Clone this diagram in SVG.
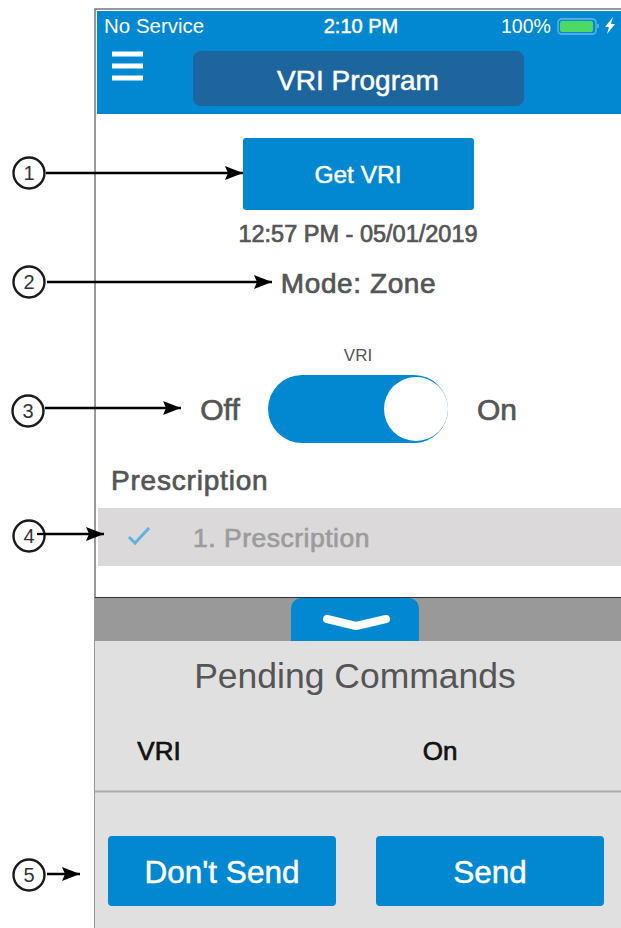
<svg xmlns="http://www.w3.org/2000/svg" width="621" height="928" viewBox="0 0 621 928">
<style>
text{font-family:"Liberation Sans",Arial,sans-serif}
.w{fill:#fff}.m{text-anchor:middle}
.b{fill:#0288d1}
.g{fill:#555}
.ws{stroke:#fff;stroke-width:.5}
.gs{stroke:#555;stroke-width:.7}
.ks{fill:#111;stroke:#111;stroke-width:.7}
.c{fill:#fff;stroke:#1a1a1a;stroke-width:2.4}
.n{font-size:20px;fill:#333;text-anchor:middle}
.l{stroke:#000;stroke-width:2.3;fill:none;marker-end:url(#a)}
</style>
<defs><marker id="a" markerUnits="userSpaceOnUse" markerWidth="19" markerHeight="14" refX="18" refY="7" orient="auto"><path d="M0 0L18 7L0 14L3 7Z" fill="#000"/></marker></defs>
<rect width="621" height="928" fill="#fff"/>
<g id="phone-frame">
<path d="M621 9H95V928" fill="none" stroke="#777" stroke-width="1.500"/>
</g>
<g id="header">
<rect x="97" y="11" width="524" height="103" class="b"/>
<text x="104" y="33" font-size="20.500" class="w">No Service</text>
<text x="361" y="33" font-size="20" class="w m ws">2:10 PM</text>
<text x="501" y="33" font-size="19.500" class="w">100%</text>
<rect x="558" y="19" width="38" height="15" rx="3.500" fill="none" stroke="#6cb6e2" stroke-width="1.300"/>
<rect x="560" y="21" width="33" height="11" rx="2" fill="#4cd964"/>
<path d="M598 24v4" stroke="#6cb6e2" stroke-width="1.500"/>
<path d="M613 17L605 27H609L607 34L615 24H611Z" class="w"/>
<path d="M112 54h31M112 66h31M112 78h31" stroke="#fff" stroke-width="5"/>
<rect x="193" y="51" width="331" height="55" rx="8" fill="#1c659d"/>
<text x="358" y="90" font-size="28" class="w m ws">VRI Program</text>
</g>
<g id="get-vri">
<rect x="243" y="138" width="231" height="72" rx="3" class="b"/>
<text x="358" y="183" font-size="24.500" class="w m ws">Get VRI</text>
</g>
<text x="358" y="242" font-size="23.500" class="g m gs">12:57 PM - 05/01/2019</text>
<text x="358.500" y="293" font-size="28" letter-spacing=".6" class="g m gs">Mode: Zone</text>
<g id="toggle">
<text x="358" y="361" font-size="17" class="g m">VRI</text>
<rect x="268" y="375" width="180" height="68" rx="34" class="b"/>
<circle cx="416" cy="409" r="32" fill="#fff"/>
<text x="220" y="420" font-size="30" class="g m gs">Off</text>
<text x="497" y="420" font-size="30" class="g m gs">On</text>
</g>
<text x="111" y="490" font-size="28" letter-spacing=".8" class="g gs">Prescription</text>
<g id="prescription-row">
<rect x="98" y="508" width="523" height="58" fill="#dbd9d9"/>
<path d="M129 537L135 543L149 528" fill="none" stroke="#5fb3dc" stroke-width="3"/>
<text x="193" y="547" font-size="26.500" letter-spacing=".5" fill="#9c9c9c" stroke="#9c9c9c" stroke-width=".7">1. Prescription</text>
</g>
<g id="pending-panel">
<rect x="95" y="598" width="526" height="43" fill="#999"/>
<path d="M95 597.500H621" stroke="#333" stroke-width="1"/>
<rect x="95" y="641" width="526" height="287" fill="#e0e0e0"/>
<path d="M291 641V608a10 10 0 0 1 10-10H409a10 10 0 0 1 10 10V641Z" class="b"/>
<path d="M327 619L356 626L386 619" fill="none" stroke="#fff" stroke-width="8" stroke-linecap="round" stroke-linejoin="round"/>
<text x="355" y="688" font-size="35.500" class="g m">Pending Commands</text>
<text x="159" y="760" font-size="26" class="m ks">VRI</text>
<text x="440" y="760" font-size="26" class="m ks">On</text>
<path d="M95 791.500H621" stroke="#aaa" stroke-width="2"/>
</g>
<g id="dont-send">
<rect x="108" y="836" width="228" height="70" rx="4" class="b"/>
<text x="222" y="883" font-size="31.500" class="w m ws">Don't Send</text>
</g>
<g id="send">
<rect x="376" y="836" width="228" height="70" rx="4" class="b"/>
<text x="490" y="883" font-size="31.500" class="w m ws">Send</text>
</g>
<g id="connectors">
<path class="l" d="M46 173H243"/>
<path class="l" d="M47 282H272"/>
<path class="l" d="M45 408H181"/>
<path class="l" d="M37 534H104"/>
<path class="l" d="M47 874H80"/>
</g>
<g id="callout-1"><circle cx="29" cy="173" r="15.500" class="c"/><text x="29" y="180" class="n">1</text></g>
<g id="callout-2"><circle cx="29" cy="282" r="15.500" class="c"/><text x="29" y="289" class="n">2</text></g>
<g id="callout-3"><circle cx="28" cy="411" r="15.500" class="c"/><text x="28" y="418" class="n">3</text></g>
<g id="callout-4"><circle cx="29" cy="536" r="15.500" class="c"/><text x="29" y="543" class="n">4</text><path d="M37 534H46" stroke="#000" stroke-width="2.300"/></g>
<g id="callout-5"><circle cx="29" cy="875" r="15.500" class="c"/><text x="29" y="882" class="n">5</text></g>
</svg>
